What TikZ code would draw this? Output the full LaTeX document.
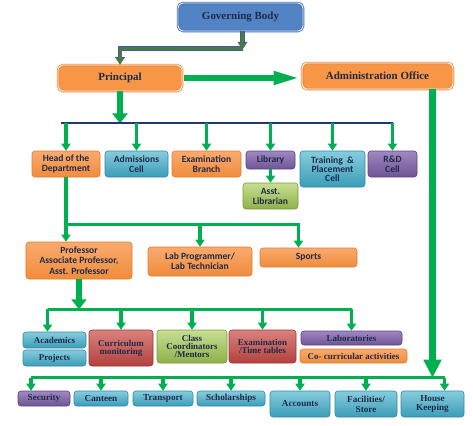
\documentclass[tikz,border=0pt]{standalone}
\usepackage{fontspec}
\setmainfont{Liberation Serif}
\newfontfamily\cellfont{Carlito}
\usepackage{tikz}
\usetikzlibrary{arrows.meta,positioning,calc}
\definecolor{inkblue}{HTML}{1F2A4A}
\definecolor{feedgreen}{HTML}{00B050}
\definecolor{railnavy}{HTML}{1F3A6E}
\definecolor{pipeolive}{HTML}{4E7A3C}
\definecolor{pipeblue}{HTML}{3A5FA8}
\definecolor{headorange}{HTML}{F79646}
\definecolor{headorangeD}{HTML}{F08C3C}
\definecolor{headblue}{HTML}{5283C4}
\definecolor{headblueD}{HTML}{3F6DB0}
\tikzset{
  box/.style={rounded corners=3bp, align=center, inner sep=1bp, text=inkblue, line width=0.6bp},
  sz/.style 2 args={minimum width=#1bp, minimum height=#2bp},
  headbox/.style={box, rounded corners=5bp, font=\fontsize{11}{12}\selectfont\bfseries, line width=0.8bp, double=white, double distance=0.9bp},
  unit/.style={box, font=\cellfont\bfseries\fontsize{9.6}{10}\selectfont},
  task/.style={box, font=\fontsize{9}{8}\selectfont\bfseries},
  service/.style={box, font=\fontsize{9.2}{10}\selectfont\bfseries},
  fillorange/.style={top color={rgb,255:red,250;green,170;blue,110}, bottom color={rgb,255:red,240;green,140;blue,60}, draw={rgb,255:red,226;green,126;blue,50}},
  fillcyan/.style={top color={rgb,255:red,135;green,204;blue,222}, bottom color={rgb,255:red,58;green,157;blue,184}, draw={rgb,255:red,47;green,139;blue,165}},
  fillpurple/.style={top color={rgb,255:red,160;green,136;blue,194}, bottom color={rgb,255:red,110;green,84;blue,148}, draw={rgb,255:red,92;green,69;blue,128}},
  fillgreen/.style={top color={rgb,255:red,200;green,222;blue,146}, bottom color={rgb,255:red,143;green,176;blue,74}, draw={rgb,255:red,122;green,154;blue,58}},
  fillred/.style={top color={rgb,255:red,218;green,130;blue,126}, bottom color={rgb,255:red,178;green,65;blue,62}, draw={rgb,255:red,156;green,53;blue,50}},
  feed/.style={draw=feedgreen, line width=3.2bp, -{Triangle[width=9bp,length=7bp]}},
  midfeed/.style={draw=feedgreen, line width=6bp, -{Triangle[width=15bp,length=10bp]}},
  bigfeed/.style={draw=feedgreen, line width=6.5bp, -{Triangle[width=12bp,length=28bp]}},
  trunk/.style={draw=feedgreen, line width=7bp, -{Triangle[width=17bp,length=18bp]}},
  rail/.style={draw=feedgreen, line width=2.6bp},
  navyrail/.style={draw=railnavy, line width=2bp},
  govpipe/.style={draw=pipeolive, line width=3bp, -{Triangle[width=7bp,length=6bp]},
    preaction={draw=pipeblue, line width=4.6bp, -{Triangle[width=9.5bp,length=7.5bp]}}},
}

\begin{document}
\begin{tikzpicture}[x=1bp,y=-1bp]
  \useasboundingbox[fill=white] (0,0) rectangle (473,425);
  % top
  \node[headbox, sz={125}{28}, fill=headblue, draw=headblueD] (gov) at (240.5,17) {Governing Body};
  \node[headbox, sz={124}{26}, fill=headorange, draw=headorangeD] (principal) at (120,78) {Principal};
  \node[headbox, sz={151}{26}, fill=headorange, draw=headorangeD] (admin) at (377.5,76) {Administration Office};
  % units under the principal
  \node[unit, fillorange, sz={68}{26}] (hod) at (66,164) {Head of the\\Department};
  \node[unit, fillcyan, sz={63}{26}] (adm) at (136.5,164) {Admissions\\Cell};
  \node[unit, fillorange, sz={69}{26}] (exam) at (206.5,164) {Examination\\Branch};
  \node[unit, fillpurple, sz={49}{18}] (lib) at (270.5,160) {Library};
  \node[unit, fillgreen, sz={55}{26}] (asstlib) at (270.5,196) {Asst.\\Librarian};
  \node[unit, fillcyan, sz={65}{36}, font=\cellfont\bfseries\fontsize{9.6}{8.8}\selectfont] (tpc) at (332.5,169) {Training \ \&\\Placement\\Cell};
  \node[unit, fillpurple, sz={49}{26}] (rnd) at (392.5,164) {R\&D\\Cell};
  % staff
  \node[unit, fillorange, sz={106}{37}, font=\cellfont\bfseries\fontsize{9.6}{10.5}\selectfont] (prof) at (79,260.5) {Professor\\Associate Professor,\\Asst. Professor};
  \node[unit, fillorange, sz={104}{29}] (labprog) at (200,261.5) {Lab Programmer/\\Lab Technician};
  \node[unit, fillorange, sz={97}{19}] (sports) at (308.5,257.5) {Sports};
  % tasks
  \node[task, fillcyan, sz={63}{16}] (acad) at (54.5,340) {Academics};
  \node[task, fillcyan, sz={63}{16}] (proj) at (54.5,358) {Projects};
  \node[task, fillred, sz={64}{36}] (curr) at (121,348) {Curriculum\\monitoring};
  \node[task, fillgreen, sz={70}{33}] (class) at (192,346.5) {Class\\Coordinators\\/Mentors};
  \node[task, fillred, sz={67}{33}] (examtt) at (262.5,346.5) {Examination\\/Time tables};
  \node[task, fillpurple, sz={101}{14}] (labs) at (351.5,338) {Laboratories};
  \node[task, fillorange, sz={107}{14}] (cocurr) at (353.5,356) {Co- curricular activities};
  % services under the office
  \node[service, fillpurple, sz={52}{15}] (sec) at (44,398.5) {Security};
  \node[service, fillcyan, sz={54}{15}] (cant) at (101,398.5) {Canteen};
  \node[service, fillcyan, sz={60}{15}] (trans) at (163,398.5) {Transport};
  \node[service, fillcyan, sz={68}{15}] (schol) at (231,398.5) {Scholarships};
  \node[service, fillcyan, sz={60}{26}] (acc) at (300,404) {Accounts};
  \node[service, fillcyan, sz={62}{26}] (fac) at (366,404) {Facilities/\\Store};
  \node[service, fillcyan, sz={63}{26}] (house) at (432.5,404) {House\\Keeping};

  % governing body to principal
  \coordinate (govturn) at ($(gov.south)+(2,18)$);
  \draw[govpipe] (gov.south -| govturn) -- (govturn);
  \draw[govpipe] ($(govturn)+(0,-1)$) -| (principal.north);
  \draw[bigfeed] ($(principal.east)+(2,0)$) -- (principal.east -| admin.west);

  % principal to units
  \coordinate (unitrail) at ($(principal.south)+(0,32)$);
  \draw[midfeed] (principal.south) -- (unitrail);
  \draw[navyrail, shorten <=-5bp] (unitrail -| hod) -- (unitrail -| rnd);
  \foreach \u in {hod,adm,exam,lib,tpc,rnd}
    \draw[feed] (unitrail -| \u) -- (\u.north);
  \draw[feed] (lib.south) -- (asstlib.north);

  % head of the department to staff
  \coordinate (staffrail) at ($(hod.south)+(0,47)$);
  \coordinate (sportsin) at ($(sports.north)+(-10,0)$);
  \draw[feed] (hod.south) -- (hod.south |- prof.north);
  \draw[feed] (staffrail) -| (sportsin);
  \draw[feed] (staffrail -| labprog) -- (labprog.north);

  % professors to tasks
  \coordinate (taskrail) at ($(prof.south)+(0,30)$);
  \coordinate (acadin) at ($(acad.north)+(-7,0)$);
  \draw[midfeed] (prof.south) -- (taskrail);
  \draw[rail] (taskrail -| acadin) -- (taskrail -| labs);
  \foreach \t in {acadin,curr.north,class.north,examtt.north,labs.north}
    \draw[feed] (taskrail -| \t) -- (\t);

  % office to services
  \coordinate (servicerail) at ($(house.north)+(0,-13)$);
  \coordinate (secin) at ($(sec.north)+(-13,0)$);
  \coordinate (housein) at ($(house.north)+(12,0)$);
  \draw[trunk] (admin.south -| house) -- (servicerail);
  \draw[rail] (servicerail -| secin) -- (servicerail -| housein);
  \foreach \s in {secin,cant.north,trans.north,schol.north,acc.north,fac.north,housein}
    \draw[feed] (servicerail -| \s) -- (\s);
\end{tikzpicture}
\end{document}
